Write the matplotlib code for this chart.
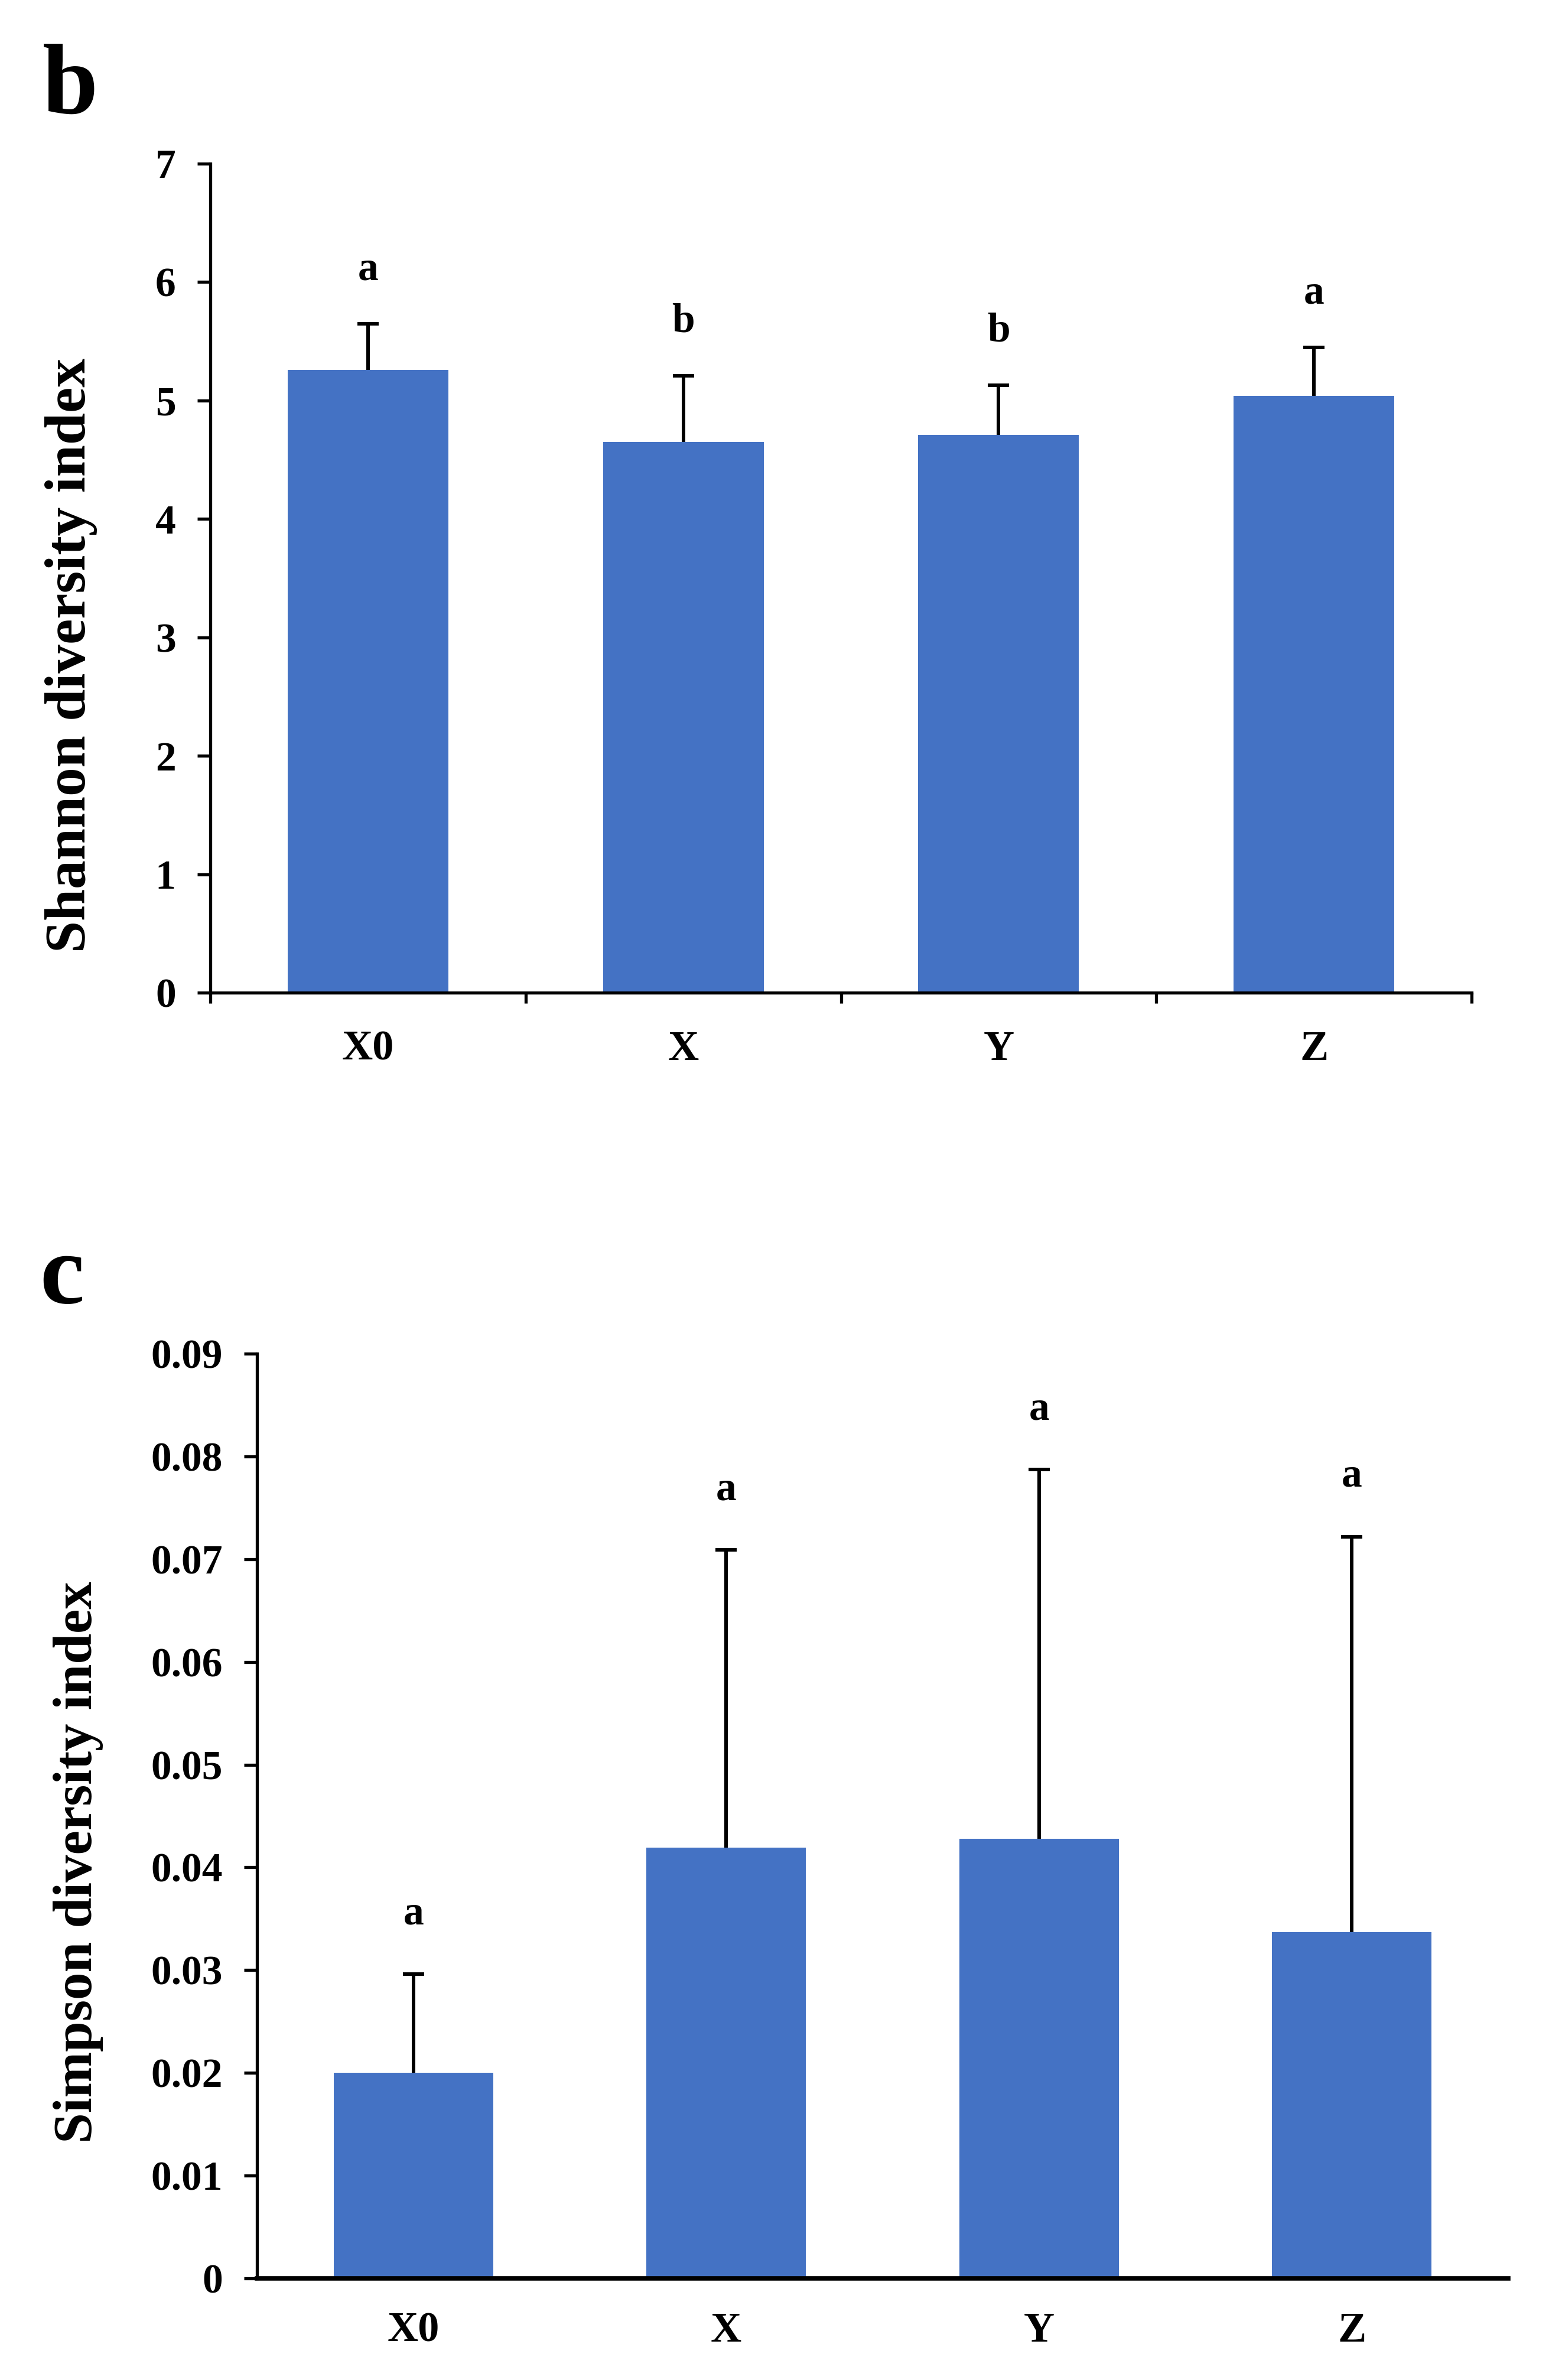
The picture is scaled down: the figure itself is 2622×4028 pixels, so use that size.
import numpy as np
import matplotlib
matplotlib.use("Agg")
import matplotlib.pyplot as plt

plt.rcParams['font.family'] = ['Liberation Serif', 'DejaVu Serif']
plt.rcParams['font.weight'] = 'bold'

# data
groups = ['X0', 'X', 'Y', 'Z']

shannon_mean = [5.26, 4.65, 4.71, 5.04]
shannon_sd = [0.39, 0.56, 0.42, 0.41]
shannon_letters = ['a', 'b', 'b', 'a']

simpson_mean = [0.0200, 0.0419, 0.0428, 0.0337]
simpson_sd = [0.0096, 0.0290, 0.0359, 0.0385]
simpson_letters = ['a', 'a', 'a', 'a']

BLUE = '#4472C4'
W, H = 2622, 4028
fig = plt.figure(figsize=(W / 100, H / 100), dpi=100)


def rect(left, top, right, bottom):
    # pixel box -> figure fraction
    return [left / W, 1 - bottom / H, (right - left) / W, (bottom - top) / H]


def panel(ax, means, sds, letters, ymax, ystep, ylabel, label_xy, xticks_on,
          fmt, xlw, xpad):
    x = np.arange(len(groups))
    ax.bar(x, means, width=0.51, color=BLUE, zorder=2)
    _, caps, _ = ax.errorbar(x, means, yerr=[np.zeros(len(sds)), sds],
                             fmt='none', ecolor='black', elinewidth=4.3,
                             capsize=13, capthick=4.3, zorder=3)
    caps[0].set_visible(False)  # only the upper whisker, like Excel "plus"
    for xi, m, s, t in zip(x, means, sds, letters):
        ax.text(xi, m + s + 0.065 * ymax, t, ha='center', va='center',
                fontsize=50, fontweight='bold')
    ax.set_xlim(-0.5, len(groups) - 0.5)
    ax.set_ylim(0, ymax)
    ticks = np.arange(0, ymax + ystep / 2, ystep)
    ax.set_yticks(ticks)
    ax.set_yticklabels([fmt(v) for v in ticks])
    for s in ['top', 'right']:
        ax.spines[s].set_visible(False)
    ax.spines['left'].set_linewidth(3.8)
    ax.spines['bottom'].set_linewidth(xlw)
    ax.tick_params(axis='y', direction='out', length=16, width=3.8, pad=26,
                   labelsize=50)
    # category labels centred on bars, tick marks on category boundaries
    ax.set_xticks(x)
    ax.set_xticklabels(groups, fontsize=52, fontweight='bold')
    if xticks_on:
        ax.set_xticks(np.arange(-0.5, len(groups)), minor=True)
        ax.tick_params(axis='x', which='minor', direction='out', length=13,
                       width=3.8)
    ax.tick_params(axis='x', which='major', length=0, pad=xpad)
    ax.set_ylabel(ylabel, fontsize=70, fontweight='bold', va='center')
    ax.yaxis.set_label_coords(*label_xy)


ax1 = fig.add_axes(rect(356, 277, 2491, 1680))
panel(ax1, shannon_mean, shannon_sd, shannon_letters, 7, 1,
      'Shannon diversity index', (-0.1105, 0.407), True,
      lambda v: '%d' % round(v), 3.8, 46)

ax2 = fig.add_axes(rect(435, 2291, 2553, 3856))
panel(ax2, simpson_mean, simpson_sd, simpson_letters, 0.09, 0.01,
      'Simpson diversity index', (-0.1426, 0.45), False,
      lambda v: '0' if abs(v) < 1e-9 else '%.2f' % v, 5.5, 41)
ax2.yaxis.label.set_fontsize(67)

fig.text(72 / W, 1 - 192 / H, 'b', fontsize=122, fontweight='bold',
         va='baseline', ha='left')
fig.text(67 / W, 1 - 2205 / H, 'c', fontsize=122, fontweight='bold',
         va='baseline', ha='left')

fig.savefig('out.png', dpi=100, facecolor='white')
